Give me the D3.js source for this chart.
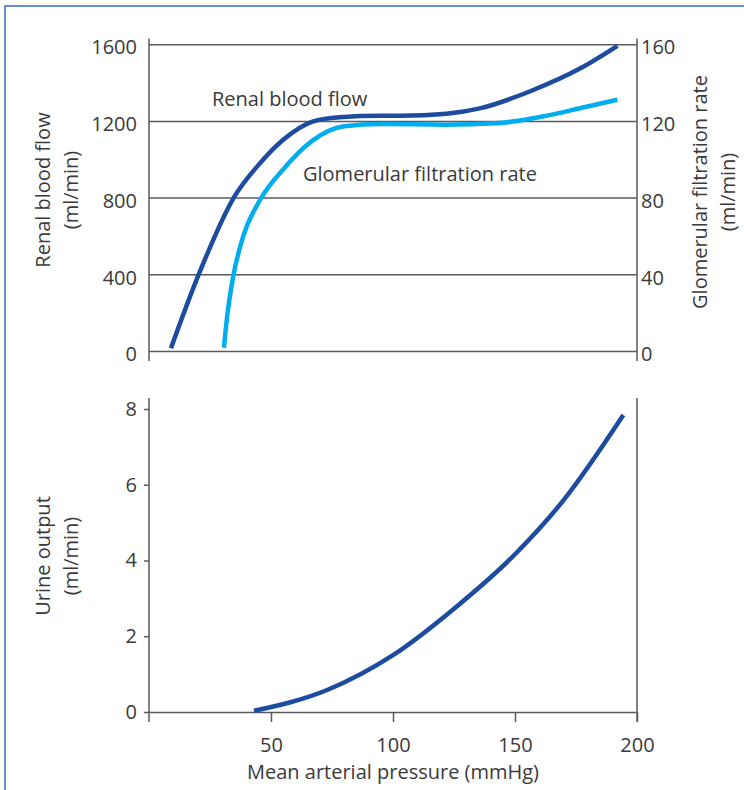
<!DOCTYPE html>
<html>
<head>
<meta charset="utf-8">
<script src="https://cdn.jsdelivr.net/npm/d3@7"></script>
<style>
  body { margin: 0; background: #fff; }
  svg { display: block; font-family: "Open Sans", sans-serif; }
  .tick text { fill: #3a3a3a; font-size: 20px; font-family: "Open Sans", sans-serif; }
</style>
</head>
<body>
<svg id="chart" width="744" height="790"></svg>
<script>
// mean arterial pressure (mmHg) vs renal blood flow (ml/min)
var rbfPressure = [9, 20, 35, 45.5, 55, 67, 78, 95, 103, 122, 136, 156, 177, 192];
var rbfValue = [17, 390, 808, 982, 1104, 1199, 1222, 1229, 1229, 1240, 1269, 1356, 1478, 1594];

// glomerular filtration rate (ml/min), right axis
var gfrPressure = [30.7, 32, 34.5, 38.6, 45.5, 55, 67, 80, 95, 122, 142, 163, 177, 192];
var gfrValue = [2, 18, 39, 60, 79, 95, 110, 117.5, 118.6, 118.3, 119, 123, 127, 131.3];

// urine output (ml/min)
var urinePressure = [43, 73, 100, 126, 149, 170, 194.4];
var urineValue = [0.03, 0.58, 1.5, 2.78, 4.1, 5.6, 7.84];

var flowTicks = [0, 400, 800, 1200, 1600];
var gfrTicks = [0, 40, 80, 120, 160];
var urineTicks = [0, 2, 4, 6, 8];
var pressureTicks = [50, 100, 150, 200];

var darkBlue = "#1c4b9f";
var lightBlue = "#00aeef";
var axisColor = "#5a5a5a";
var textColor = "#3a3a3a";

var svg = d3.select("#chart");

// frame
svg.append("rect")
    .attr("x", 5).attr("y", 6)
    .attr("width", 800).attr("height", 900)
    .attr("fill", "none")
    .attr("stroke", "#3a6bc4")
    .attr("stroke-width", 1.5);

var left = 149, right = 637;
var x = d3.scaleLinear([0, 200], [left, right]);
var fmt = d3.format("d");

// ---------- top panel ----------
var topY0 = 351.5, topY1 = 44.7;
var yFlow = d3.scaleLinear([0, 1600], [topY0, topY1]);
var yGfr = d3.scaleLinear([0, 160], [topY0, topY1]);

svg.append("g").selectAll("line")
    .data(flowTicks)
    .join("line")
    .attr("x1", left).attr("x2", right)
    .attr("y1", function(d) { return yFlow(d); })
    .attr("y2", function(d) { return yFlow(d); })
    .attr("stroke", axisColor)
    .attr("stroke-width", 1.5);

svg.append("line")
    .attr("x1", left).attr("x2", left).attr("y1", 38.5).attr("y2", 361)
    .attr("stroke", axisColor).attr("stroke-width", 1.5);
svg.append("line")
    .attr("x1", right).attr("x2", right).attr("y1", 38.5).attr("y2", 361)
    .attr("stroke", axisColor).attr("stroke-width", 1.5);

svg.append("g")
    .attr("transform", "translate(" + left + ",0)")
    .call(d3.axisLeft(yFlow).tickValues(flowTicks).tickFormat(fmt).tickSize(0).tickPadding(12))
    .call(function(g) { g.select(".domain").remove(); })
    .selectAll("text").attr("dy", "0.46em");

svg.append("g")
    .attr("transform", "translate(" + right + ",0)")
    .call(d3.axisRight(yGfr).tickValues(gfrTicks).tickFormat(fmt).tickSize(0).tickPadding(4))
    .call(function(g) { g.select(".domain").remove(); })
    .selectAll("text").attr("dy", "0.46em");

var flowLine = d3.line()
    .x(function(d) { return x(d[0]); })
    .y(function(d) { return yFlow(d[1]); })
    .curve(d3.curveMonotoneX);
var gfrLine = d3.line()
    .x(function(d) { return x(d[0]); })
    .y(function(d) { return yGfr(d[1]); })
    .curve(d3.curveMonotoneX);

svg.append("path")
    .datum(d3.zip(gfrPressure, gfrValue))
    .attr("d", gfrLine)
    .attr("fill", "none")
    .attr("stroke", lightBlue)
    .attr("stroke-width", 4.5);

svg.append("path")
    .datum(d3.zip(rbfPressure, rbfValue))
    .attr("d", flowLine)
    .attr("fill", "none")
    .attr("stroke", darkBlue)
    .attr("stroke-width", 4.5);

svg.append("text").attr("x", 212).attr("y", 106)
    .attr("font-size", 20).attr("fill", textColor)
    .text("Renal blood flow");
svg.append("text").attr("x", 303).attr("y", 181)
    .attr("font-size", 20).attr("fill", textColor)
    .text("Glomerular filtration rate");

// ---------- bottom panel ----------
var botY0 = 712, botY1 = 409;
var yUrine = d3.scaleLinear([0, 8], [botY0, botY1]);

svg.append("line")
    .attr("x1", left).attr("x2", left).attr("y1", 398).attr("y2", 722)
    .attr("stroke", axisColor).attr("stroke-width", 1.5);
svg.append("line")
    .attr("x1", right).attr("x2", right).attr("y1", 398).attr("y2", 722)
    .attr("stroke", axisColor).attr("stroke-width", 1.5);

svg.append("g")
    .attr("transform", "translate(" + left + ",0)")
    .call(d3.axisLeft(yUrine).tickValues(urineTicks).tickFormat(fmt).tickSize(5).tickPadding(7))
    .call(function(g) { g.select(".domain").remove(); })
    .call(function(g) { g.selectAll(".tick line").attr("stroke", axisColor).attr("stroke-width", 1.5); });

svg.append("g")
    .attr("transform", "translate(0," + botY0 + ")")
    .call(d3.axisBottom(x).tickValues(pressureTicks).tickFormat(fmt).tickSize(10).tickPadding(16).tickSizeOuter(0))
    .call(function(g) {
        g.select(".domain").attr("stroke", axisColor).attr("stroke-width", 1.5);
        g.selectAll(".tick line").attr("stroke", axisColor).attr("stroke-width", 1.5);
    });

var urineLine = d3.line()
    .x(function(d) { return x(d[0]); })
    .y(function(d) { return yUrine(d[1]); })
    .curve(d3.curveMonotoneX);

svg.append("path")
    .datum(d3.zip(urinePressure, urineValue))
    .attr("d", urineLine)
    .attr("fill", "none")
    .attr("stroke", darkBlue)
    .attr("stroke-width", 4.5);

// ---------- axis titles ----------
function vTitle(cx, cy, lines) {
    var t = svg.append("text")
        .attr("transform", "translate(" + cx + "," + cy + ") rotate(-90)")
        .attr("text-anchor", "middle")
        .attr("font-size", 20)
        .attr("fill", textColor);
    lines.forEach(function(s, i) {
        t.append("tspan").attr("x", 0).attr("y", i * 28).text(s);
    });
}
vTitle(50, 190, ["Renal blood flow", "(ml/min)"]);
vTitle(707, 192, ["Glomerular filtration rate", "(ml/min)"]);
vTitle(50, 556, ["Urine output", "(ml/min)"]);

svg.append("text")
    .attr("x", 393).attr("y", 779)
    .attr("text-anchor", "middle")
    .attr("font-size", 20).attr("fill", textColor)
    .text("Mean arterial pressure (mmHg)");
</script>
</body>
</html>
